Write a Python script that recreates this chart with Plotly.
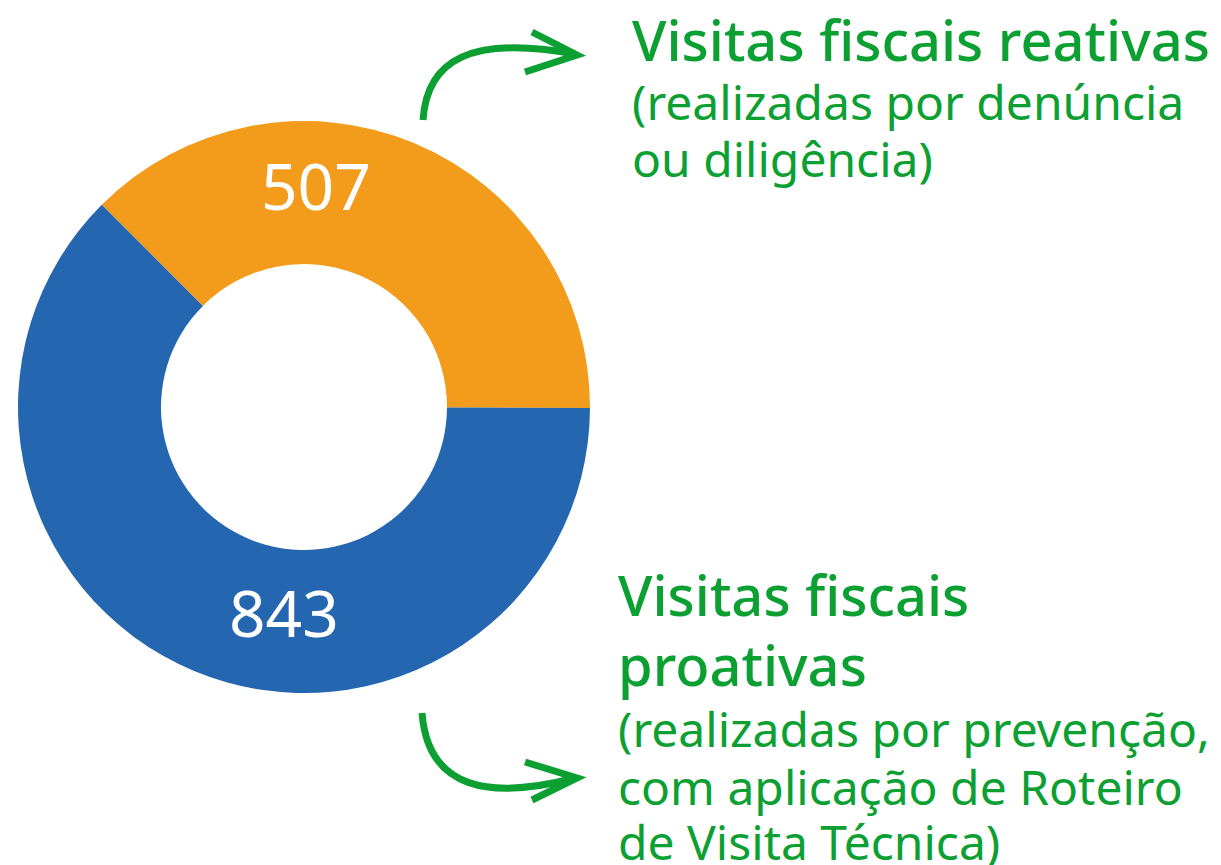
import plotly.graph_objects as go

# The page body has an 8px margin: size the figure to fit the window and
# map reference pixels to paper fractions with that offset.
OFF = 8
W, H = 1221 - OFF, 865 - OFF

categories = ["Visitas fiscais reativas", "Visitas fiscais proativas"]
values = [507, 843]
colors = ["#F39B1B", "#2566B0"]
value_labels = ["507", "843"]

GREEN = "#0CA032"
FONT = "Noto Sans"

def px(x, y):
    return (x - OFF) / W, 1 - (y - OFF) / H

fig = go.Figure()
x0, y0 = px(18, 693)
x1, y1 = px(590, 121)
fig.add_trace(go.Pie(
    labels=categories,
    values=values,
    hole=0.5,
    sort=False,
    direction="clockwise",
    rotation=-45,
    marker=dict(colors=colors, line=dict(width=0)),
    textinfo="none",
    hoverinfo="label+value",
    showlegend=False,
    domain=dict(x=[x0, x1], y=[y0, y1]),
))

annotations = []
for lbl, (lx, ly) in zip(value_labels, [(316, 185), (284, 612)]):
    x, y = px(lx, ly)
    annotations.append(dict(x=x, y=y, xref="paper", yref="paper", text=lbl,
                            showarrow=False, xanchor="center", yanchor="middle",
                            font=dict(family=FONT, size=64, color="white")))

text_lines = [
    ("Visitas fiscais reativas", 632, 57, 56, 500),
    ("(realizadas por denúncia", 632, 117, 48, 400),
    ("ou diligência)", 632, 174, 48, 400),
    ("Visitas fiscais", 618, 612, 56, 500),
    ("proativas", 618, 682, 56, 500),
    ("(realizadas por prevenção,", 618, 744, 48, 400),
    ("com aplicação de Roteiro", 618, 802, 48, 400),
    ("de Visita Técnica)", 618, 857, 48, 400),
]
for t, lx, base, fs, wt in text_lines:
    x, y = px(lx - 2, base - 0.33 * fs)
    annotations.append(dict(x=x, y=y, xref="paper", yref="paper", text=t,
                            showarrow=False, xanchor="left", yanchor="middle",
                            font=dict(family=FONT, size=fs, color=GREEN, weight=wt)))

def path(points_cmd):
    out = []
    for cmd, pts in points_cmd:
        coords = " ".join("%.5f,%.5f" % px(a, b) for a, b in pts)
        out.append(cmd + " " + coords)
    return " ".join(out)

shapes = []
arrow_paths = [
    path([("M", [(423, 120)]), ("C", [(427, 60), (470, 35), (575, 54)])]),
    path([("M", [(532, 32)]), ("L", [(577, 55)]), ("L", [(525, 72)])]),
    path([("M", [(422, 713)]), ("C", [(428, 790), (490, 800), (575, 778)])]),
    path([("M", [(525, 762)]), ("L", [(577, 778)]), ("L", [(532, 800)])]),
]
for p in arrow_paths:
    shapes.append(dict(type="path", path=p, xref="paper", yref="paper",
                       line=dict(color=GREEN, width=7), fillcolor="rgba(0,0,0,0)"))

fig.update_layout(
    width=W, height=H,
    margin=dict(l=0, r=0, t=0, b=0),
    paper_bgcolor="white", plot_bgcolor="white",
    annotations=annotations,
    shapes=shapes,
)

fig.write_html("out.html")
